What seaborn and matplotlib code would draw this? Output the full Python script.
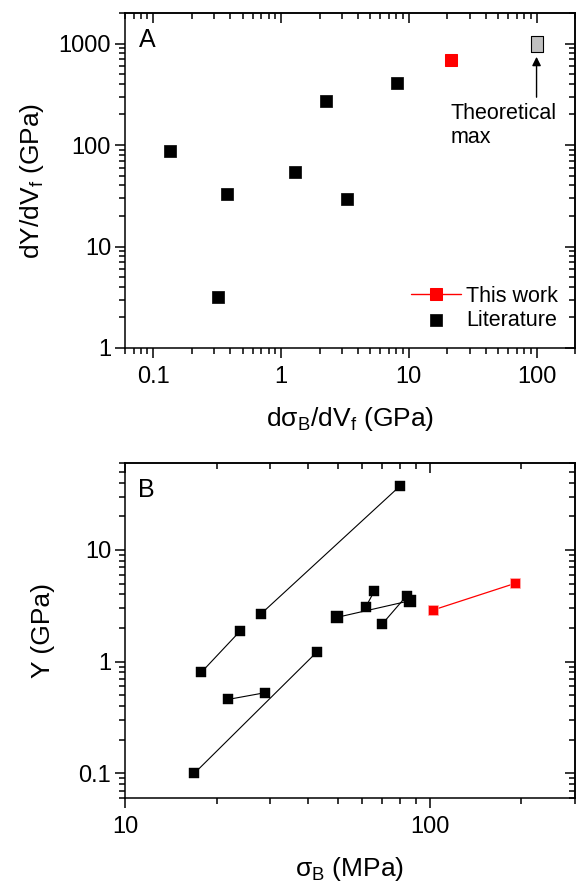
import numpy as np
import pandas as pd
import seaborn as sns
import matplotlib.pyplot as plt
from matplotlib.ticker import LogLocator, NullFormatter, FuncFormatter

# panel A: dY/dVf vs dsigma_B/dVf (GPa)
lit_dsig = [0.136, 0.32, 0.38, 1.29, 2.25, 3.27, 8.1]
lit_dY = [88, 3.2, 32.6, 54.6, 272, 29.2, 405]
this_dsig = [21.4]
this_dY = [687]
theo_dsig = [100]
theo_dY = [985]

# panel B: Y (GPa) vs sigma_B (MPa), each literature pair joined by a line
b_sigma = [17.8, 23.8, 27.9, 79.8, 21.8, 28.8, 16.9, 42.8, 49.7, 86.0, 61.6, 65.9, 69.8, 84.0]
b_Y = [0.80, 1.86, 2.66, 37.2, 0.458, 0.526, 0.10, 1.23, 2.49, 3.5, 3.06, 4.3, 2.16, 3.88]
b_group = [1, 1, 2, 2, 3, 3, 4, 4, 5, 5, 6, 6, 7, 7]
b_big = [0, 0, 0, 0, 0, 0, 0, 0, 1, 1, 0, 0, 0, 0]
b_this_sigma = [102.5, 191]
b_this_Y = [2.89, 5.02]

sns.set_style("ticks")
plt.rcParams["font.family"] = ["Liberation Sans", "DejaVu Sans"]
plt.rcParams["mathtext.fontset"] = "custom"
plt.rcParams["mathtext.rm"] = "Liberation Sans"
plt.rcParams["axes.linewidth"] = 1.1
for key in ("axes.edgecolor", "xtick.color", "ytick.color", "text.color", "axes.labelcolor"):
    plt.rcParams[key] = "black"

fmt = FuncFormatter(lambda v, _: f"{v:g}")


def style_axes(ax):
    ax.set_xscale("log")
    ax.set_yscale("log")
    for axis in (ax.xaxis, ax.yaxis):
        axis.set_major_formatter(fmt)
        axis.set_minor_locator(LogLocator(subs=np.arange(2, 10)))
        axis.set_minor_formatter(NullFormatter())
    ax.tick_params(which="major", direction="out", length=7, width=1.1, labelsize=17)
    ax.tick_params(which="minor", direction="out", length=4, width=1.1)
    ax.tick_params(axis="x", which="major", pad=6)
    ax.tick_params(axis="y", which="major", pad=3)
    # mirrored ticks on top / right point inwards
    top = ax.secondary_xaxis("top")
    right = ax.secondary_yaxis("right")
    for sec, axis in ((top, top.xaxis), (right, right.yaxis)):
        axis.set_minor_locator(LogLocator(subs=np.arange(2, 10)))
        sec.tick_params(which="major", direction="in", length=7, width=1.1,
                        labelleft=False, labelright=False, labeltop=False, labelbottom=False)
        sec.tick_params(which="minor", direction="in", length=4, width=1.1)
        axis.set_major_formatter(NullFormatter())
        axis.set_minor_formatter(NullFormatter())


fig = plt.figure(figsize=(5.76, 8.88), dpi=100)
W, H = 576, 888
axA = fig.add_axes([125 / W, (H - 348) / H, 450 / W, 335 / H])
axB = fig.add_axes([125 / W, (H - 798) / H, 450 / W, 335 / H])

# ---- panel A
sns.scatterplot(x=lit_dsig, y=lit_dY, marker="s", s=85, color="black",
                edgecolor="black", linewidth=0.5, label="Literature", ax=axA, zorder=3)
sns.lineplot(x=this_dsig, y=this_dY, marker="s", markersize=9, color="red",
             markeredgecolor="red", lw=1, label="This work", ax=axA, zorder=3)
axA.plot(theo_dsig, theo_dY, ls="none",
         marker=[(-0.38, -0.5), (0.38, -0.5), (0.38, 0.5), (-0.38, 0.5), (-0.38, -0.5)],
         markersize=11.5, markerfacecolor="#c0c0c0", markeredgecolor="black",
         markeredgewidth=0.8, zorder=3)
style_axes(axA)
axA.set_xlim(0.06, 200)
axA.set_ylim(1, 2000)
axA.annotate("", xy=(100, 740), xytext=(100, 296),
             arrowprops=dict(arrowstyle="-|>", color="black", lw=1, mutation_scale=13,
                             shrinkA=0, shrinkB=0))
axA.text(21.3, 262, "Theoretical\nmax", ha="left", va="top", fontsize=15.5)
axA.text(0.03, 0.955, "A", transform=axA.transAxes, ha="left", va="top", fontsize=18)
axA.set_xlabel("dσ$_\\mathrm{B}$/dV$_\\mathrm{f}$ (GPa)", fontsize=19, labelpad=12)
axA.set_ylabel("dY/dV$_\\mathrm{f}$ (GPa)", fontsize=19, labelpad=9)
h, l = axA.get_legend_handles_labels()
order = [l.index("This work"), l.index("Literature")]
axA.legend([h[i] for i in order], [l[i] for i in order], loc="lower right",
           frameon=False, fontsize=15.5, handlelength=2.3, handletextpad=0.25,
           labelspacing=0.15, borderaxespad=0.4)

# ---- panel B
dfB = pd.DataFrame({"sigma": b_sigma, "Y": b_Y, "group": b_group, "big": b_big})
sns.lineplot(data=dfB, x="sigma", y="Y", units="group", estimator=None, sort=False,
             color="black", lw=0.8, ax=axB, zorder=2)
small = dfB[dfB["big"] == 0]
big = dfB[dfB["big"] == 1]
sns.scatterplot(data=small, x="sigma", y="Y", marker="s", s=48, color="black",
                edgecolor="black", linewidth=0.3, ax=axB, zorder=3)
sns.scatterplot(data=big, x="sigma", y="Y", marker="s", s=82, color="black",
                edgecolor="black", linewidth=0.3, ax=axB, zorder=3)
sns.lineplot(x=b_this_sigma, y=b_this_Y, color="red", lw=0.9, marker="s", markersize=7.5,
             markeredgecolor="#ffb0b0", markeredgewidth=0.5, ax=axB, zorder=3)
style_axes(axB)
axB.set_xlim(10, 300)
axB.set_ylim(0.06, 60)
axB.text(0.03, 0.955, "B", transform=axB.transAxes, ha="left", va="top", fontsize=18)
axB.set_xlabel("σ$_\\mathrm{B}$ (MPa)", fontsize=19, labelpad=12)
axB.set_ylabel("Y (GPa)", fontsize=19, labelpad=17)
if axB.get_legend() is not None:
    axB.get_legend().remove()

fig.savefig("out.png", dpi=100)
